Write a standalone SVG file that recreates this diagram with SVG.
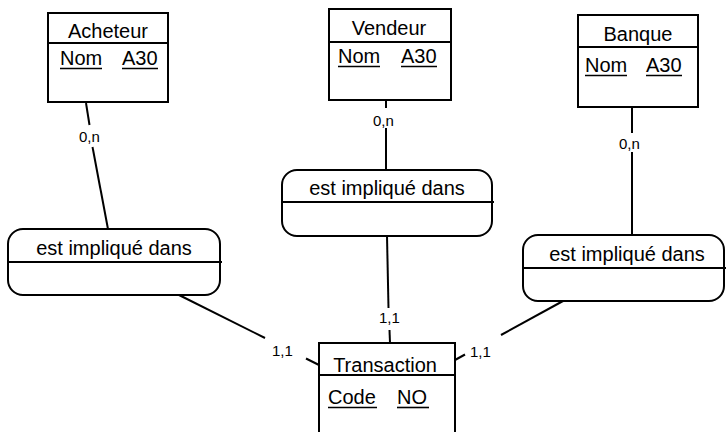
<svg xmlns="http://www.w3.org/2000/svg" width="726" height="432" viewBox="0 0 726 432">
  <style>
    .box { fill: #ffffff; stroke: #000000; stroke-width: 2; }
    .sep { stroke: #000000; stroke-width: 2; fill: none; }
    .link { stroke: #000000; stroke-width: 2; fill: none; }
    .t { font-family: "Liberation Sans", Arial, sans-serif; font-size: 20px; fill: #000000; }
    .mid { text-anchor: middle; }
    .u { stroke: #000000; stroke-width: 1.6; }
    .card { font-family: "Liberation Sans", Arial, sans-serif; font-size: 15px; fill: #000000; }
  </style>
  <rect width="726" height="432" fill="#ffffff"/>

  <!-- connectors, split where the cardinality labels sit -->
  <g id="connectors">
    <line class="link" x1="86" y1="103" x2="89.5" y2="125"/>
    <line class="link" x1="92.5" y1="147" x2="108" y2="229"/>
    <line class="link" x1="386" y1="101" x2="386" y2="108"/>
    <line class="link" x1="386" y1="128" x2="386" y2="170"/>
    <line class="link" x1="632" y1="107" x2="632" y2="133"/>
    <line class="link" x1="632" y1="152" x2="632" y2="235"/>
    <line class="link" x1="179" y1="295" x2="265" y2="338"/>
    <line class="link" x1="306" y1="358.5" x2="319" y2="365"/>
    <line class="link" x1="387" y1="236" x2="388.5" y2="308"/>
    <line class="link" x1="389.5" y1="330" x2="390" y2="343"/>
    <line class="link" x1="563" y1="301" x2="501" y2="335"/>
    <line class="link" x1="465" y1="354.5" x2="455" y2="360"/>
    <text class="card" x="79" y="142">0,n</text>
    <text class="card" x="373" y="126">0,n</text>
    <text class="card" x="619" y="149">0,n</text>
    <text class="card" x="272" y="356">1,1</text>
    <text class="card" x="379" y="323">1,1</text>
    <text class="card" x="470" y="357">1,1</text>
  </g>

  <!-- entities -->
  <g id="acheteur">
    <rect class="box" x="48" y="13" width="120" height="89"/>
    <line class="sep" x1="48" y1="43" x2="168" y2="43"/>
    <text class="t mid" x="108" y="38">Acheteur</text>
    <text class="t" x="60" y="65">Nom</text>
    <line class="u" x1="60" y1="68.5" x2="102" y2="68.5"/>
    <text class="t" x="122" y="65">A30</text>
    <line class="u" x1="122" y1="68.5" x2="158" y2="68.5"/>
  </g>

  <g id="vendeur">
    <rect class="box" x="329" y="9" width="122" height="91"/>
    <line class="sep" x1="329" y1="42" x2="451" y2="42"/>
    <text class="t mid" x="389" y="35">Vendeur</text>
    <text class="t" x="338" y="63">Nom</text>
    <line class="u" x1="338" y1="66.5" x2="380" y2="66.5"/>
    <text class="t" x="401" y="63">A30</text>
    <line class="u" x1="401" y1="66.5" x2="437" y2="66.5"/>
  </g>

  <g id="banque">
    <rect class="box" x="578" y="15" width="120" height="92"/>
    <line class="sep" x1="578" y1="47" x2="698" y2="47"/>
    <text class="t mid" x="638" y="41">Banque</text>
    <text class="t" x="585" y="72">Nom</text>
    <line class="u" x1="585" y1="75.5" x2="627" y2="75.5"/>
    <text class="t" x="646" y="72">A30</text>
    <line class="u" x1="646" y1="75.5" x2="682" y2="75.5"/>
  </g>

  <g id="transaction">
    <rect class="box" x="319" y="343" width="136" height="100"/>
    <line class="sep" x1="319" y1="375" x2="455" y2="375"/>
    <text class="t mid" x="385" y="372">Transaction</text>
    <text class="t" x="328" y="404">Code</text>
    <line class="u" x1="328" y1="407.5" x2="377" y2="407.5"/>
    <text class="t" x="397" y="404">NO</text>
    <line class="u" x1="397" y1="407.5" x2="429" y2="407.5"/>
  </g>

  <!-- associations -->
  <g id="implique-acheteur">
    <rect class="box" x="8" y="229" width="212" height="66" rx="15" ry="15"/>
    <line class="sep" x1="8" y1="262" x2="222" y2="262"/>
    <text class="t mid" x="114" y="255">est impliqué dans</text>
  </g>

  <g id="implique-vendeur">
    <rect class="box" x="282" y="170" width="210" height="66" rx="15" ry="15"/>
    <line class="sep" x1="282" y1="202" x2="494" y2="202"/>
    <text class="t mid" x="387" y="195">est impliqué dans</text>
  </g>

  <g id="implique-banque">
    <rect class="box" x="523" y="235" width="201" height="66" rx="15" ry="15"/>
    <line class="sep" x1="523" y1="268" x2="726" y2="268"/>
    <text class="t mid" x="627" y="261">est impliqué dans</text>
  </g>
</svg>
